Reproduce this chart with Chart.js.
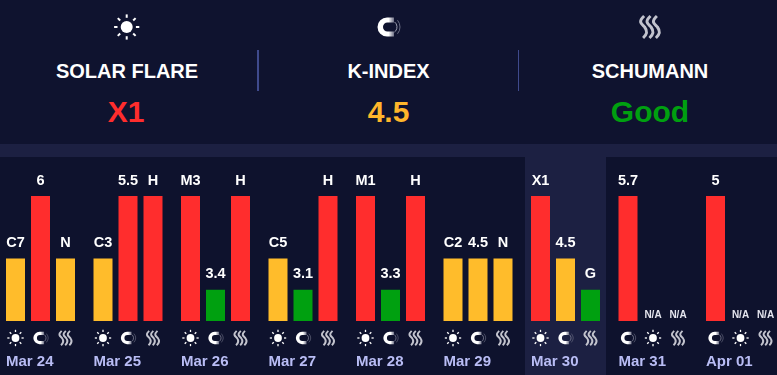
<!DOCTYPE html>
<html><head><meta charset="utf-8">
<script src="https://cdn.jsdelivr.net/npm/chart.js@4"></script>
<style>
html,body{margin:0;padding:0;background:#0f132f;overflow:hidden;width:777px;height:375px;font-family:"Liberation Sans",Arial,sans-serif}
#band{position:absolute;left:0;top:144px;width:777px;height:13px;background:#1c2042}
#low{position:absolute;left:0;top:157px;width:777px;height:218px;background:#0e122d}
.cv{position:absolute;left:-10px;top:0}
.t,.v{position:absolute;width:240px;text-align:center;font-weight:bold;white-space:nowrap}
.t{top:59px;font-size:20px;line-height:24px;color:#fff}
.v{top:94px;font-size:30px;line-height:36px}
.d{position:absolute;top:50px;height:41px;background:#3f4a8c}
</style></head><body>
<div id="band"></div><div id="low"></div>
<div style="position:absolute;left:0;top:0;width:777px;height:144px">
<div class="t" style="left:7px">SOLAR FLARE</div><div class="v" style="left:6px;color:#ff2d2d">X1</div>
<div class="t" style="left:268.5px">K-INDEX</div><div class="v" style="left:268.5px;color:#ffb62b">4.5</div>
<div class="t" style="left:530px">SCHUMANN</div><div class="v" style="left:530px;color:#00a010">Good</div>
<div class="d" style="left:256.5px;width:2px"></div><div class="d" style="left:518px;width:1px"></div>
</div>
<div class="cv"><canvas id="c" width="800" height="375" style="width:800px;height:375px;display:block"></canvas></div>
<script>
const categories=["Mar 24","Mar 25","Mar 26","Mar 27","Mar 28","Mar 29","Mar 30","Mar 31","Apr 01"];
const highlightedDay="Mar 30";
const slot1Levels=[2,2,4,2,4,2,4,4,4];
const slot2Levels=[4,4,1,1,1,2,2,0,0];
const slot3Levels=[2,4,4,4,4,2,1,0,0];
const slot1Labels=["C7","C3","M3","C5","M1","C2","X1","5.7","5"];
const slot2Labels=["6","5.5","3.4","3.1","3.3","4.5","4.5","N/A","N/A"];
const slot3Labels=["N","H","H","H","H","N","G","N/A","N/A"];
const slot1Icons=["sun","sun","sun","sun","sun","sun","sun","magnet","magnet"];
const slot2Icons=["magnet","magnet","magnet","magnet","magnet","magnet","magnet","sun","sun"];
const slot3Icons=["waves","waves","waves","waves","waves","waves","waves","waves","waves"];
const levelColors={1:"#00a010",2:"#ffbc2b",4:"#ff2d2d"};
const slotLabels=[slot1Labels,slot2Labels,slot3Labels];
const slotIcons=[slot1Icons,slot2Icons,slot3Icons];

function sun(ctx,x,y,s){
  ctx.fillStyle="#fff";ctx.strokeStyle="#fff";
  ctx.beginPath();ctx.arc(x,y,6*s,0,7);ctx.fill();
  ctx.lineWidth=2*s;ctx.lineCap="butt";
  for(let i=0;i<8;i++){const a=i*Math.PI/4,c=Math.cos(a),d=Math.sin(a);
    ctx.beginPath();ctx.moveTo(x+c*9.2*s,y+d*9.2*s);ctx.lineTo(x+c*12.6*s,y+d*12.6*s);ctx.stroke();}
}
function magnet(ctx,x,y,s){
  const g=ctx.createLinearGradient(x-6*s,0,x+6*s,0);
  g.addColorStop(0,"#fff");g.addColorStop(.5,"#fff");g.addColorStop(1,"#60627a");
  ctx.fillStyle=g;
  const cx=x-1.5*s;
  ctx.beginPath();
  ctx.moveTo(x+5.5*s,y-9.5*s);ctx.lineTo(cx,y-9.5*s);
  ctx.arc(cx,y,9.5*s,-Math.PI/2,Math.PI/2,true);
  ctx.lineTo(x+5.5*s,y+9.5*s);ctx.lineTo(x+5.5*s,y+4.5*s);ctx.lineTo(cx+.5*s,y+4.5*s);
  ctx.arc(cx+.5*s,y,4.5*s,Math.PI/2,-Math.PI/2,false);
  ctx.lineTo(x+5.5*s,y-4.5*s);ctx.closePath();ctx.fill();
  ctx.strokeStyle="#9a9cae";ctx.lineWidth=1*s;
  ctx.beginPath();ctx.arc(x+2*s,y,6.5*s,-.9,.9);ctx.stroke();
  ctx.strokeStyle="#6a6d84";
  ctx.beginPath();ctx.arc(x+1*s,y,10.5*s,-.7,.7);ctx.stroke();
}
function waves(ctx,x,y,s){
  ctx.strokeStyle="#c2c3cd";ctx.lineWidth=3*s;ctx.lineCap="butt";
  for(const dx of[-6.4,0,6.4]){
    const px=x+dx*s;
    ctx.beginPath();ctx.moveTo(px+.5*s,y-11*s);
    ctx.bezierCurveTo(px-6*s,y-5*s,px-2*s,y-3*s,px+1*s,y);
    ctx.bezierCurveTo(px+4*s,y+4*s,px+4*s,y+7*s,px-.5*s,y+11*s);
    ctx.stroke();
  }
}
const drawIcon={sun,magnet,waves};

const overlay={id:"overlay",
  beforeDraw(ch){
    const {ctx,scales:{x}}=ch;
    const px=x.getPixelForValue(categories.indexOf(highlightedDay));
    ctx.save();ctx.fillStyle="#1c2042";ctx.fillRect(px-40.5,157,81,218);ctx.restore();
  },
  afterDatasetsDraw(ch){
    const {ctx,chartArea:a}=ch;
    ctx.save();
    sun(ctx,136.7,27,1);magnet(ctx,398.5,27,1);waves(ctx,660,27,1);
    ctx.textAlign="center";ctx.textBaseline="middle";
    ch.data.datasets.forEach((ds,si)=>{
      ch.getDatasetMeta(si).data.forEach((bar,i)=>{
        const t=slotLabels[si][i];
        if(t==="N/A"){ctx.font='bold 10px "Liberation Sans"';ctx.fillStyle="#e4e5ee";ctx.fillText(t,bar.x,a.bottom-5.5);}
        else{ctx.font='bold 14.5px "Liberation Sans"';ctx.fillStyle="#fff";ctx.fillText(t,bar.x,bar.y-15.5);}
        drawIcon[slotIcons[si][i]](ctx,bar.x,a.bottom+17,0.65);
      });
    });
    ctx.restore();
  }
};
const mk=(d)=>({data:d,backgroundColor:c=>levelColors[c.raw]||"transparent",borderWidth:0,categoryPercentage:75/87.5,barPercentage:19/25});
new Chart(document.getElementById("c"),{
  type:"bar",
  data:{labels:categories,datasets:[mk(slot1Levels),mk(slot2Levels),mk(slot3Levels)]},
  options:{responsive:false,animation:false,
    layout:{padding:{left:6.75,right:5.75,top:196,bottom:0}},
    plugins:{legend:{display:false},tooltip:{enabled:false}},
    scales:{
      y:{display:false,min:0,max:4},
      x:{grid:{display:false},border:{display:false},
        afterFit(s){s.height=54;s.paddingLeft=0;s.paddingRight=0;},
        ticks:{align:"start",labelOffset:-34.5,padding:24,maxRotation:0,autoSkip:false,color:"#b9bdf5",font:{family:'"Liberation Sans"',size:15,weight:"bold"}}}
    }
  },
  plugins:[overlay]
});
</script></body></html>
